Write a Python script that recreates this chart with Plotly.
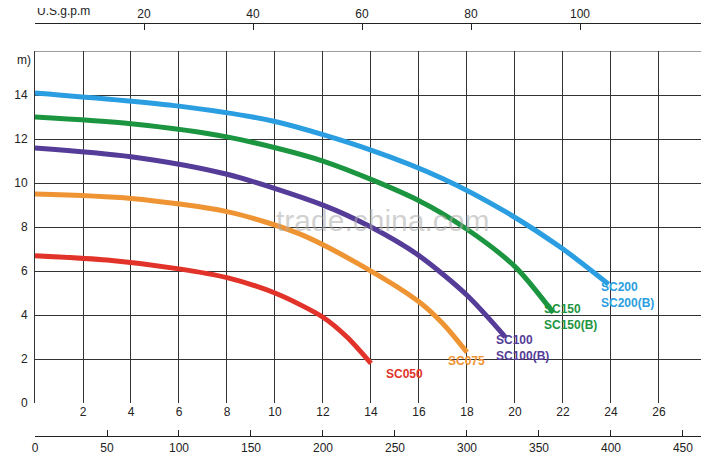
import plotly.graph_objects as go

# flow in m3/h, head in m
sc050_q = [0, 3, 6, 8, 10, 12, 13, 14]
sc050_h = [6.7, 6.5, 6.1, 5.7, 5.0, 3.9, 3.0, 1.8]
sc075_q = [0, 4, 8, 11, 14, 16, 17, 18]
sc075_h = [9.5, 9.3, 8.7, 7.7, 6.0, 4.6, 3.6, 2.3]
sc100_q = [0, 4, 8, 12, 14, 16, 18, 19.6]
sc100_h = [11.6, 11.2, 10.4, 9.0, 8.0, 6.7, 4.9, 3.0]
sc150_q = [0, 4, 8, 12, 16, 18, 20, 21.6]
sc150_h = [13.0, 12.7, 12.1, 11.0, 9.2, 7.9, 6.2, 4.1]
sc200_q = [0, 6, 10, 14, 17, 19.6, 22, 23.9]
sc200_h = [14.1, 13.5, 12.8, 11.5, 10.2, 8.7, 7.0, 5.4]

gpm_ticks = [20, 40, 60, 80, 100]
lpm_ticks = [0, 50, 100, 150, 200, 250, 300, 350, 400, 450]

curves = [
    (sc050_q, sc050_h, '#e2332a', ['SC050'], (15.4, 1.3)),
    (sc075_q, sc075_h, '#ef9433', ['SC075'], (18.0, 1.9)),
    (sc100_q, sc100_h, '#553c98', ['SC100', 'SC100(B)'], (20.3, 2.5)),
    (sc150_q, sc150_h, '#1c9540', ['SC150', 'SC150(B)'], (22.3, 3.9)),
    (sc200_q, sc200_h, '#2a9ee0', ['SC200', 'SC200(B)'], (24.7, 4.9)),
]

fig = go.Figure()
for q, h, col, names, (lx, ly) in curves:
    fig.add_trace(go.Scatter(x=q, y=h, mode='lines', line=dict(color=col, width=5, shape='spline', smoothing=0.8),
                             showlegend=False, hoverinfo='skip'))
    fig.add_annotation(x=lx, y=ly, text='<br>'.join('<b>%s</b>' % n for n in names), showarrow=False,
                       align='left', font=dict(color=col, size=12, family='Liberation Sans'))

XMAX = 27.96
fig.update_layout(
    width=709, height=474, margin=dict(l=27, r=11, t=10, b=10),
    plot_bgcolor='white', paper_bgcolor='white',
    font=dict(family='Liberation Sans', size=12, color='#222'),
    xaxis=dict(range=[0, XMAX], domain=[0, 1], tickvals=list(range(2, 28, 2)), showgrid=True,
               gridcolor='#333', gridwidth=1, ticks='', zeroline=False, showline=False, automargin=False),
    yaxis=dict(range=[0, 16], domain=[0.152, 0.927], tickvals=list(range(0, 16, 2)), showgrid=True,
               gridcolor='#333', ticks='', zeroline=False, showline=True, linecolor='#333',
               automargin=False, ticklabelstandoff=4),
    xaxis2=dict(overlaying='x', anchor='free', position=0.989, side='top', range=[0, XMAX],
                tickvals=[g * 0.2271 for g in gpm_ticks], ticktext=[str(g) for g in gpm_ticks],
                showgrid=False, showline=True, linecolor='#222', ticks='inside', ticklen=6,
                tickcolor='#222', zeroline=False, automargin=False),
    xaxis3=dict(overlaying='x', anchor='free', position=0.079, side='bottom', range=[0, XMAX],
                tickvals=[v * 0.06 for v in lpm_ticks], ticktext=[str(v) for v in lpm_ticks],
                showgrid=False, showline=True, linecolor='#222', ticks='inside', ticklen=6,
                tickcolor='#222', zeroline=False, automargin=False),
)
# grid line at top of the plot (16 m) without a label
fig.add_shape(type='line', xref='paper', yref='y', x0=0, x1=1, y0=16, y1=16, line=dict(color='#333', width=1))
fig.add_trace(go.Scatter(x=[0], y=[0], xaxis='x2', mode='markers', marker=dict(opacity=0),
                         showlegend=False, hoverinfo='skip'))
fig.add_trace(go.Scatter(x=[0], y=[0], xaxis='x3', mode='markers', marker=dict(opacity=0),
                         showlegend=False, hoverinfo='skip'))
fig.add_annotation(xref='paper', yref='paper', x=0.0, y=0.995, text='U.S.g.p.m', showarrow=False,
                   xanchor='left', yanchor='bottom', font=dict(size=12))
fig.add_annotation(xref='paper', yref='paper', x=-0.003, y=0.927, text='m)', showarrow=False,
                   xanchor='right', font=dict(size=12))
fig.add_annotation(x=14.5, y=8.3, text='trade.china.com', showarrow=False,
                   font=dict(size=30, color='rgba(170,170,170,0.55)'))
fig.write_html("out.html")
